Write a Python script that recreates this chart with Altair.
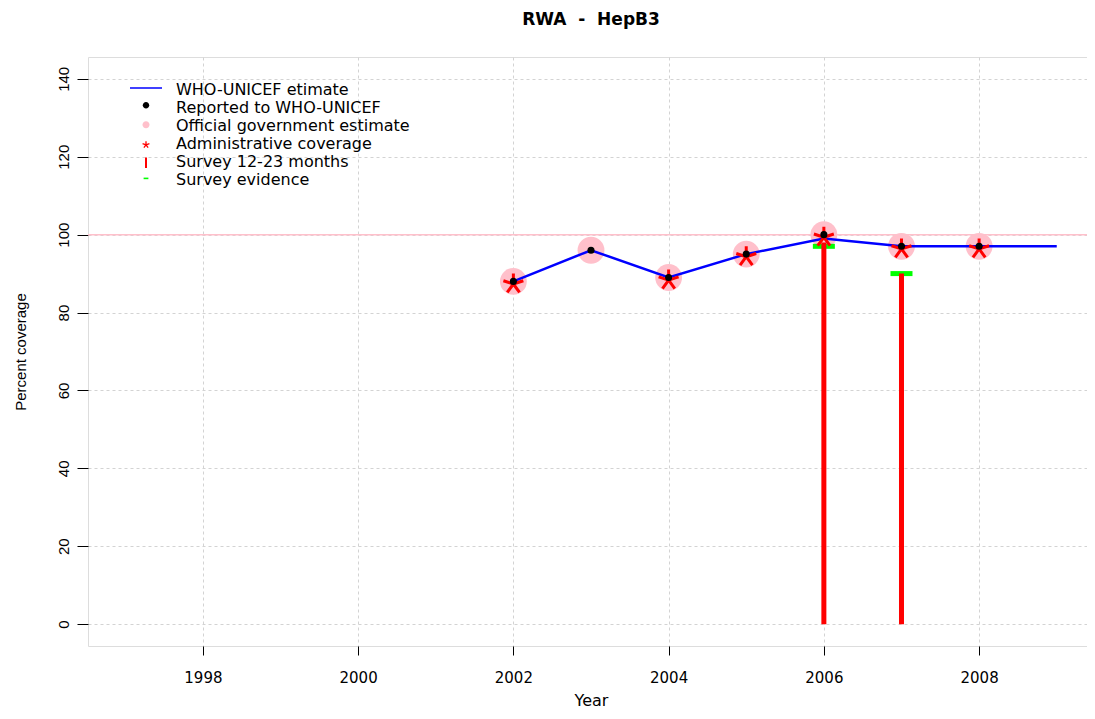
import math
import altair as alt
import pandas as pd

# ---------------- data ----------------
years_who = [2002, 2003, 2004, 2005, 2006, 2007, 2008, 2009]
who_estimate = [88, 96, 89, 95, 99, 97, 97, 97]

years_reported = [2002, 2003, 2004, 2005, 2006, 2007, 2008]
reported = [88, 96, 89, 95, 100, 97, 97]

years_official = [2002, 2003, 2004, 2005, 2006, 2007, 2008]
official = [88, 96, 89, 95, 100, 97, 97]

years_admin = [2002, 2004, 2005, 2006, 2007, 2008]
admin = [88, 89, 95, 100, 97, 97]

years_survey = [2006, 2007]
survey_1223 = [98, 90]

years_evidence = [2006, 2007]
survey_evidence = [97, 90]

ref_line = [100]

x_ticks = [1998, 2000, 2002, 2004, 2006, 2008]
y_ticks = [0, 20, 40, 60, 80, 100, 120, 140]

series_names = [
    "WHO-UNICEF etimate",
    "Reported to WHO-UNICEF",
    "Official government estimate",
    "Administrative coverage",
    "Survey 12-23 months",
    "Survey evidence",
]
series_colors = ["#0000FF", "#000000", "#FFC0CB", "#FF0000", "#FF0000", "#00FF00"]

title_text = "RWA \u00a0-\u00a0 HepB3"

# ---------------- symbol shapes ----------------
def circle_path(r, dy=0.0):
    return (f"M{r},{dy}A{r},{r},0,1,1,{-r},{dy}A{r},{r},0,1,1,{r},{dy}Z")

def asterisk_path(r, dy=0.0):
    parts = []
    for k in range(5):
        a = math.radians(72 * k)
        x = r * math.sin(a)
        y = -r * math.cos(a) + dy
        parts.append(f"M0,{dy:.3f}L{x:.3f},{y:.3f}")
    return "".join(parts)

def rect_path(hw, hh, dy=0.0):
    return f"M{-hw},{dy - hh}H{hw}V{dy + hh}H{-hw}Z"

FONT_H = "DejaVu Sans"
FONT_V = "Liberation Sans"

leg_y = [24, 42, 60, 78, 96, 114]

def legend(i, shape, sw=1.5):
    return alt.Legend(
        title=None, orient="none", legendX=49, legendY=leg_y[i],
        symbolType=shape, symbolSize=256, symbolStrokeWidth=sw,
        labelOffset=21, labelFont=FONT_H, labelFontSize=16,
        labelColor="black", labelLimit=500,
    )

def color_enc(i, shape, sw=1.5):
    return alt.Color(
        "series:N",
        scale=alt.Scale(domain=[series_names[i]], range=[series_colors[i]]),
        legend=legend(i, shape, sw),
    )

# ---------------- scales / axes ----------------
xscale = alt.Scale(domain=[1996.52, 2009.48], nice=False, zero=False)
yscale = alt.Scale(domain=[-5.6, 145.6], nice=False, zero=False)

xaxis = alt.Axis(
    values=x_ticks, format="d", grid=True, gridColor="#d3d3d3", gridDash=[3, 3],
    domain=False, tickSize=9, tickColor="black", labelPadding=15,
    labelFont=FONT_H, labelFontSize=15, labelColor="black",
    title="Year", titleFont=FONT_H, titleFontSize=16, titleFontWeight="normal",
    titleColor="black", titleBaseline="alphabetic", titleX=503, titleY=59,
)
yaxis = alt.Axis(
    values=y_ticks, grid=True, gridColor="#d3d3d3", gridDash=[3, 3],
    domain=False, tickSize=11, tickColor="black", labelPadding=9,
    labelAngle=270, labelAlign="center", labelBaseline="alphabetic",
    labelFont=FONT_V, labelFontSize=15, labelColor="black",
    title="Percent coverage", titleFont=FONT_V, titleFontSize=15,
    titleFontWeight="normal", titleColor="black", titleAngle=270,
    titleAlign="center", titleBaseline="alphabetic", titleX=-63, titleY=294.5,
)

X = alt.X("year:Q", scale=xscale, axis=xaxis)
Y = alt.Y("value:Q", scale=yscale, axis=yaxis)

# ---------------- frames ----------------
df_who = pd.DataFrame({"year": years_who, "value": who_estimate, "series": series_names[0]})
df_rep = pd.DataFrame({"year": years_reported, "value": reported, "series": series_names[1]})
df_off = pd.DataFrame({"year": years_official, "value": official, "series": series_names[2]})
df_adm = pd.DataFrame({"year": years_admin, "value": admin, "series": series_names[3]})
df_sur = pd.DataFrame({"year": years_survey, "value": survey_1223, "series": series_names[4]})
df_evi = pd.DataFrame({"year": years_evidence, "value": survey_evidence, "series": series_names[5]})
df_ref = pd.DataFrame({"value": ref_line})

# ---------------- layers ----------------
hline = alt.Chart(df_ref).mark_rule(color="#FFC0CB").encode(
    y=Y, strokeWidth=alt.value(1.5)
)

circles = alt.Chart(df_off).mark_circle(size=720, opacity=1).encode(
    x=X, y=Y, color=color_enc(2, circle_path(0.44, -0.15))
)

evidence = alt.Chart(df_evi).mark_tick(
    orient="horizontal", size=22, thickness=5, opacity=1
).encode(
    x=X, y=Y, color=color_enc(5, rect_path(0.3, 0.1, -0.2))
)

survey = alt.Chart(df_sur).transform_calculate(base="0").mark_rule(
    strokeCap="butt"
).encode(
    x=X, y=alt.Y("base:Q", scale=yscale, axis=yaxis), y2="value:Q",
    color=color_enc(4, "M0,-0.55V0.75", 2), strokeWidth=alt.value(5)
)

line = alt.Chart(df_who).mark_line().encode(
    x=X, y=Y, color=color_enc(0, "M-2,-0.25H2"), strokeWidth=alt.value(2.5)
)

stars = alt.Chart(df_adm).mark_point(
    shape=asterisk_path(1.0, 0.25), size=440, filled=False, opacity=1
).encode(
    x=X, y=Y, color=color_enc(3, asterisk_path(0.45, 0.1), 1.3),
    strokeWidth=alt.value(3)
)

dots = alt.Chart(df_rep).mark_circle(size=50, opacity=1).encode(
    x=X, y=Y, color=color_enc(1, circle_path(0.4, -0.35))
)

chart = alt.layer(
    hline, circles, evidence, survey, line, stars, dots
).resolve_scale(
    color="independent"
).properties(
    width=1006, height=589,
    padding={"left": 80, "top": 49, "right": -7, "bottom": 65},
    autosize=alt.AutoSizeParams(type="none"),
    title=alt.TitleParams(
        text=title_text, font=FONT_H, fontSize=17, fontWeight="bold",
        color="black", anchor="middle", frame="group",
        baseline="alphabetic", offset=15,
    ),
).configure_view(
    stroke="black", strokeWidth=1
).configure(
    background="white"
)

chart.save("out.html", embed_options={"renderer": "svg", "actions": False})
